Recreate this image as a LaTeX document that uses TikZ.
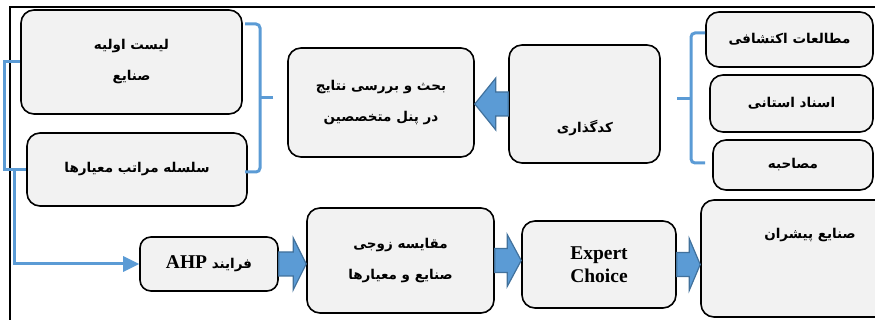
\documentclass[tikz,border=0pt]{standalone}
\usepackage{fontspec}
\setmainfont{Liberation Serif}
\newfontfamily\fafont[Script=Arabic]{DejaVu Sans}
\TeXXeTstate=1
\usetikzlibrary{calc,arrows.meta}
\definecolor{boxgray}{HTML}{F2F2F2}
\definecolor{lineblue}{HTML}{5B9BD5}
\definecolor{arrowedge}{HTML}{41719C}
\newcommand{\fatxt}[1]{\beginR #1\endR}
% block arrow: source anchor, target anchor, direction (1 or -1), head length
\newcommand{\blockarr}[4]{%
	\path (#2 |- #1) coordinate (tip);
	\draw[blockarrow] (#1) ++(0,-\shaft) -- ($(tip)+({-(#3)*#4},-\shaft)$) -- ($(tip)+({-(#3)*#4},-\head)$) -- (tip)
		-- ($(tip)+({-(#3)*#4},\head)$) -- ($(tip)+({-(#3)*#4},\shaft)$) -- ($(#1)+(0,\shaft)$) -- cycle;}
\begin{document}
\begin{tikzpicture}[x=1pt,y=-1pt]
	\tikzstyle{box}=[draw=black,fill=boxgray,line width=1.6pt,rounded corners=13pt,align=center,font=\fafont\bfseries\fontsize{13.5}{31}\selectfont]
	\tikzstyle{boxtext}=[align=center,font=\fafont\bfseries\fontsize{13.5}{31}\selectfont]
	\tikzstyle{bluel}=[draw=lineblue,line width=3pt]
	\tikzstyle{blockarrow}=[fill=lineblue,draw=arrowedge,line width=1.2pt,line join=miter]
	
	\def \shaft{12}
	\def \head{26}
	
	\useasboundingbox (0,0) rectangle (875,320);
	\draw[line width=2pt] (10,320) -- (10,7) -- (875,7);
	
	% left column
	\node[box,minimum width=221pt,minimum height=104pt]	(A)	at (131.5,62)	{\fatxt{لیست اولیه}\\\fatxt{صنایع}};
	\node[box,minimum width=220pt,minimum height=73pt]	(B)	at (137,169.5)	{\fatxt{سلسله مراتب معیارها}};
	
	% middle row
	\node[box,minimum width=186pt,minimum height=109pt]	(C)	at (381,102.5)	{\fatxt{بحث و بررسی نتایج}\\\fatxt{در پنل متخصصین}};
	\node[box,minimum width=151pt,minimum height=118pt]	(D)	at (584.5,104)	{};
	\node[boxtext]	(Dt)	at (585,128)	{\fatxt{کدگذاری}};
	
	% sources
	\node[box,minimum width=167pt,minimum height=55pt]	(E)	at (789.5,39.5)	{\fatxt{مطالعات اکتشافی}};
	\node[box,minimum width=163pt,minimum height=57pt]	(F)	at (791.5,103.5)	{\fatxt{اسناد استانی}};
	\node[box,minimum width=160pt,minimum height=50pt]	(G)	at (793,165)	{\fatxt{مصاحبه}};
	
	% bottom row
	\node[box,rounded corners=11pt,minimum width=138pt,minimum height=54pt]	(I)	at (209,264)	{\fatxt{فرایند \beginL{\rmfamily\fontsize{19.5}{22}\selectfont AHP}\endL}};
	\node[box,minimum width=187pt,minimum height=105pt]	(J)	at (400.5,260.5)	{\fatxt{مقایسه زوجی}\\\fatxt{صنایع و معیارها}};
	\node[box,minimum width=154pt,minimum height=87pt,font=\rmfamily\bfseries\fontsize{19.5}{23}\selectfont]	(K)	at (599,264.5)	{Expert\\Choice};
	\node[box,minimum width=189pt,minimum height=117pt]	(H)	at (795.5,258.5)	{};
	\node[boxtext]	(Ht)	at (810,235)	{\fatxt{صنایع پیشران}};
	
	% braces
	\coordinate (b1top) at (245,24);
	\coordinate (b1bot) at (245,172);
	\coordinate (b1mid) at (273,98);
	\draw[bluel,rounded corners=4pt] (b1top) -- ++(15,0) |- (b1bot);
	\draw[bluel] (b1mid) -- ++(-13,0);
	\coordinate (b2top) at (705,33);
	\coordinate (b2bot) at (705,163);
	\coordinate (b2mid) at (677,99);
	\draw[bluel,rounded corners=4pt] (b2top) -- ++(-14,0) |- (b2bot);
	\draw[bluel] (b2mid) -- ++(14,0);
	
	% connectors
	\draw[bluel] (A.west) -- ++(-16,0) |- (B.west);
	\coordinate (split) at ($(B.west)+(-12,0)$);
	\draw[bluel,-{Triangle[length=16pt,width=15pt]}] (split) |- (I.west);
	
	\blockarr{D.west}{C.east}{-1}{21}
	\blockarr{I.east}{J.west}{1}{13}
	\blockarr{J.east}{K.west}{1}{14}
	\blockarr{K.east}{H.west}{1}{11}
\end{tikzpicture}
\end{document}
